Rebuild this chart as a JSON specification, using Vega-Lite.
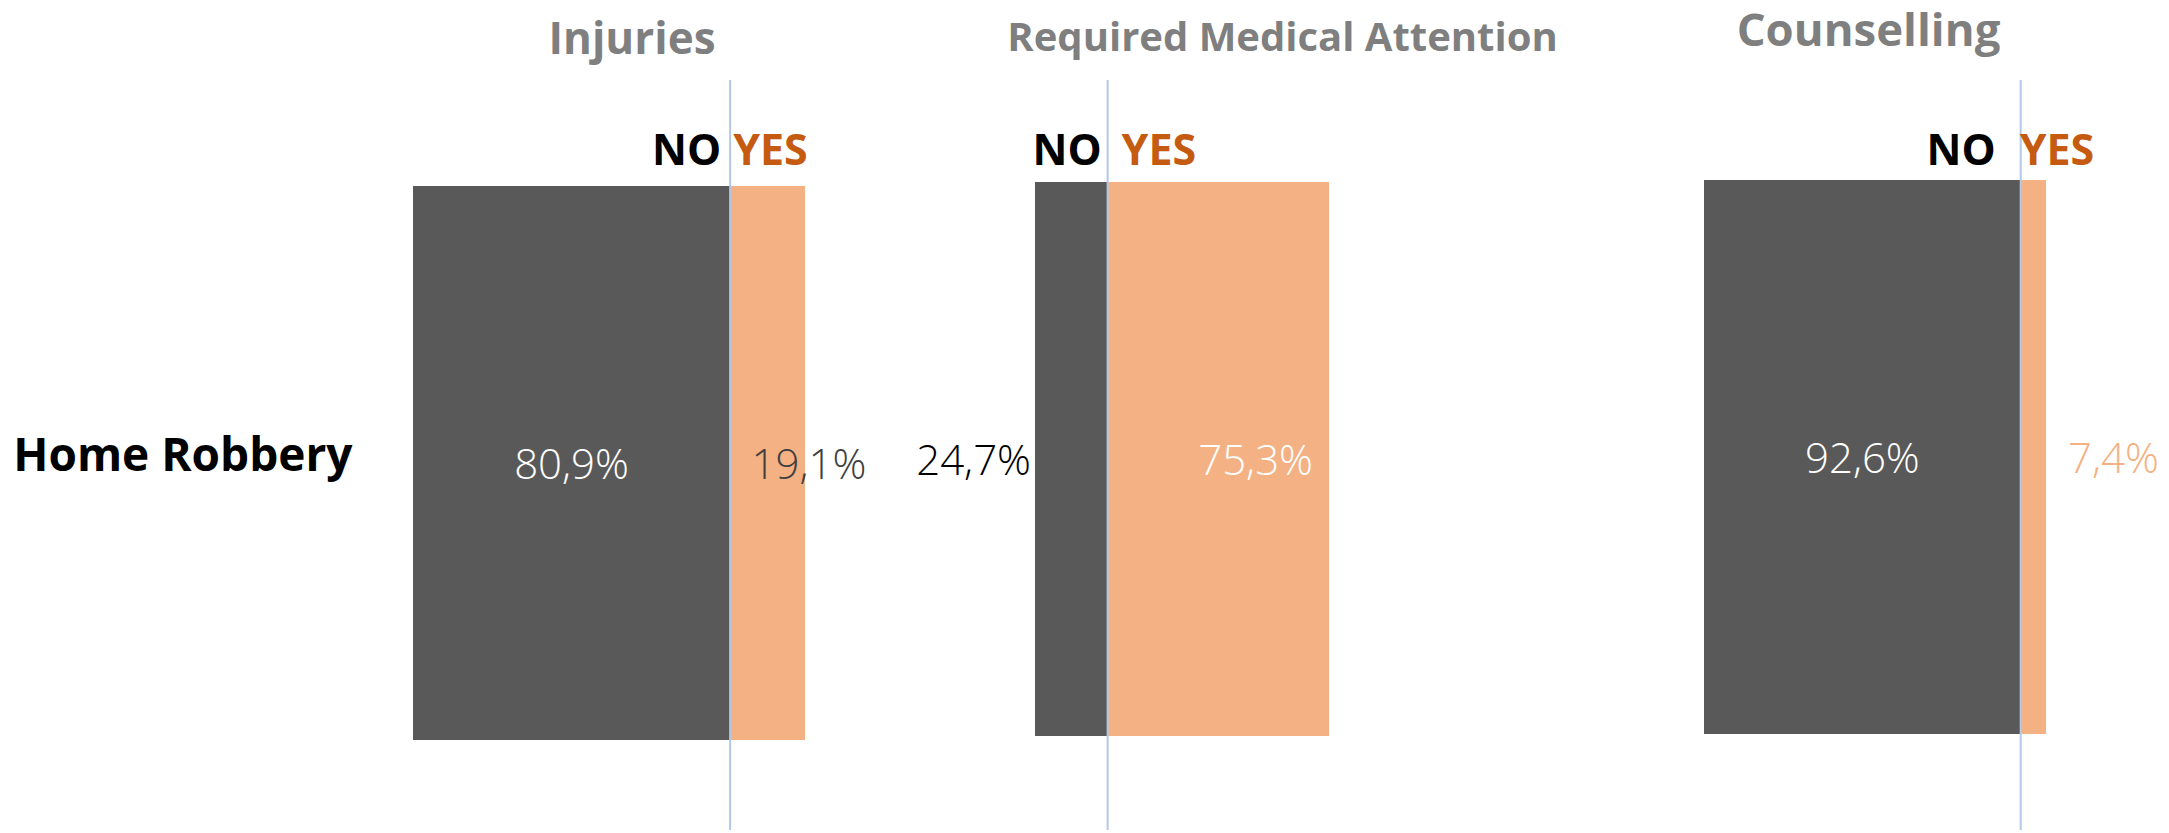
{
  "$schema": "https://vega.github.io/schema/vega-lite/v6.json",
  "autosize": {"type": "pad"},
  "padding": {"left": 12, "top": 9, "right": 0, "bottom": 0},
  "background": "white",
  "data": {"values": [
    {"panel": "Injuries", "crime": "Home Robbery", "response": "NO", "value": 0.809},
    {"panel": "Injuries", "crime": "Home Robbery", "response": "YES", "value": 0.191},
    {"panel": "Required Medical Attention", "crime": "Home Robbery", "response": "NO", "value": 0.247},
    {"panel": "Required Medical Attention", "crime": "Home Robbery", "response": "YES", "value": 0.753},
    {"panel": "Counselling", "crime": "Home Robbery", "response": "NO", "value": 0.926},
    {"panel": "Counselling", "crime": "Home Robbery", "response": "YES", "value": 0.074}
  ]},
  "spacing": 0,
  "bounds": "flush",
  "resolve": {"scale": {"x": "independent", "y": "independent", "color": "independent"}},
  "hconcat": [
    {
      "width": 622, "height": 750,
      "title": {"text": "Injuries", "anchor": "middle", "frame": "group", "dx": -92, "offset": -19, "baseline": "alphabetic", "font": "Open Sans", "fontSize": 44, "fontWeight": "bold", "color": "#7f7f7f"},
      "transform": [{"filter": "datum.panel == 'Injuries'"}],
      "layer": [
        {
          "mark": {"type": "bar"},
          "encoding": {
            "y": {"field": "crime", "type": "nominal", "scale": {"paddingInner": 0, "paddingOuter": 0.1769, "align": 0.5408},
                  "axis": {"title": null, "ticks": false, "domain": false, "labelPadding": 61, "labelLimit": 1000, "labelFont": "Open Sans", "labelFontSize": 46, "labelFontWeight": "bold", "labelColor": "#000000", "labelOffset": -6}},
            "x": {"field": "value", "type": "quantitative", "stack": "zero", "scale": {"domain": [0, 1.5867], "nice": false, "zero": false}, "axis": null},
            "color": {"field": "response", "type": "nominal", "scale": {"domain": ["NO", "YES"], "range": ["#595959", "#f4b183"]}, "legend": null},
            "order": {"field": "response"}
          }
        },
        {
          "transform": [{"filter": "datum.response == 'NO'"}],
          "mark": {"type": "rule", "color": "#b4c7e7", "strokeWidth": 2},
          "encoding": {"x": {"field": "value", "type": "quantitative"}}
        },
        {
          "mark": {"type": "text", "align": "center", "baseline": "middle", "dy": 3, "font": "Open Sans", "fontSize": 42, "fontWeight": 300, "color": "#ffffff"},
          "encoding": {
            "y": {"field": "crime", "type": "nominal"},
            "x": {"field": "value", "type": "quantitative", "stack": "zero", "bandPosition": 0.5},
            "detail": {"field": "response"}, "order": {"field": "response"},
            "text": {"condition": {"test": "datum.response == 'NO'", "field": "value", "type": "quantitative", "format": ".1%"}, "value": ""}
          }
        },
        {
          "mark": {"type": "text", "align": "center", "baseline": "middle", "dx": 4, "dy": 3, "font": "Open Sans", "fontSize": 42, "fontWeight": 300, "color": "#404040"},
          "encoding": {
            "y": {"field": "crime", "type": "nominal"},
            "x": {"field": "value", "type": "quantitative", "stack": "zero", "bandPosition": 1},
            "detail": {"field": "response"}, "order": {"field": "response"},
            "text": {"condition": {"test": "datum.response == 'YES'", "field": "value", "type": "quantitative", "format": ".1%"}, "value": ""}
          }
        },
        {
          "mark": {"type": "text", "align": "right", "baseline": "alphabetic", "dx": -9, "dy": -21, "font": "Open Sans", "fontSize": 43, "fontWeight": "bold", "color": "#000000"},
          "encoding": {
            "y": {"field": "crime", "type": "nominal", "bandPosition": 0},
            "x": {"field": "value", "type": "quantitative", "stack": "zero", "bandPosition": 1},
            "detail": {"field": "response"}, "order": {"field": "response"},
            "text": {"condition": {"test": "datum.response == 'NO'", "field": "response"}, "value": ""}
          }
        },
        {
          "mark": {"type": "text", "align": "left", "baseline": "alphabetic", "dx": 3, "dy": -21, "font": "Open Sans", "fontSize": 43, "fontWeight": "bold", "color": "#c55a11"},
          "encoding": {
            "y": {"field": "crime", "type": "nominal", "bandPosition": 0},
            "x": {"field": "value", "type": "quantitative", "stack": "zero", "bandPosition": 0},
            "detail": {"field": "response"}, "order": {"field": "response"},
            "text": {"condition": {"test": "datum.response == 'YES'", "field": "response"}, "value": ""}
          }
        }
      ]
    },
    {
      "width": 669, "height": 750,
      "title": {"text": "Required Medical Attention", "anchor": "middle", "frame": "group", "dx": -87, "offset": -12, "baseline": "alphabetic", "font": "Open Sans", "fontSize": 40, "fontWeight": "bold", "color": "#7f7f7f"},
      "transform": [{"filter": "datum.panel == 'Required Medical Attention'"}],
      "layer": [
        {
          "mark": {"type": "bar"},
          "encoding": {
            "y": {"field": "crime", "type": "nominal", "scale": {"paddingInner": 0, "paddingOuter": 0.1769, "align": 0.5204}, "axis": null},
            "x": {"field": "value", "type": "quantitative", "stack": "zero", "scale": {"domain": [0, 2.2755], "nice": false, "zero": false}, "axis": null},
            "color": {"field": "response", "type": "nominal", "scale": {"domain": ["NO", "YES"], "range": ["#595959", "#f4b183"]}, "legend": null},
            "order": {"field": "response"}
          }
        },
        {
          "transform": [{"filter": "datum.response == 'NO'"}],
          "mark": {"type": "rule", "color": "#b4c7e7", "strokeWidth": 2},
          "encoding": {"x": {"field": "value", "type": "quantitative"}}
        },
        {
          "mark": {"type": "text", "align": "right", "baseline": "middle", "dx": -4, "dy": 3, "font": "Open Sans", "fontSize": 42, "fontWeight": 300, "color": "#000000"},
          "encoding": {
            "y": {"field": "crime", "type": "nominal"},
            "x": {"field": "value", "type": "quantitative", "stack": "zero", "bandPosition": 0},
            "detail": {"field": "response"}, "order": {"field": "response"},
            "text": {"condition": {"test": "datum.response == 'NO'", "field": "value", "type": "quantitative", "format": ".1%"}, "value": ""}
          }
        },
        {
          "mark": {"type": "text", "align": "right", "baseline": "middle", "dx": -16, "dy": 3, "font": "Open Sans", "fontSize": 42, "fontWeight": 300, "color": "#ffffff"},
          "encoding": {
            "y": {"field": "crime", "type": "nominal"},
            "x": {"field": "value", "type": "quantitative", "stack": "zero", "bandPosition": 1},
            "detail": {"field": "response"}, "order": {"field": "response"},
            "text": {"condition": {"test": "datum.response == 'YES'", "field": "value", "type": "quantitative", "format": ".1%"}, "value": ""}
          }
        },
        {
          "mark": {"type": "text", "align": "right", "baseline": "alphabetic", "dx": -6, "dy": -17, "font": "Open Sans", "fontSize": 43, "fontWeight": "bold", "color": "#000000"},
          "encoding": {
            "y": {"field": "crime", "type": "nominal", "bandPosition": 0},
            "x": {"field": "value", "type": "quantitative", "stack": "zero", "bandPosition": 1},
            "detail": {"field": "response"}, "order": {"field": "response"},
            "text": {"condition": {"test": "datum.response == 'NO'", "field": "response"}, "value": ""}
          }
        },
        {
          "mark": {"type": "text", "align": "left", "baseline": "alphabetic", "dx": 14, "dy": -17, "font": "Open Sans", "fontSize": 43, "fontWeight": "bold", "color": "#c55a11"},
          "encoding": {
            "y": {"field": "crime", "type": "nominal", "bandPosition": 0},
            "x": {"field": "value", "type": "quantitative", "stack": "zero", "bandPosition": 0},
            "detail": {"field": "response"}, "order": {"field": "response"},
            "text": {"condition": {"test": "datum.response == 'YES'", "field": "response"}, "value": ""}
          }
        }
      ]
    },
    {
      "width": 465, "height": 750,
      "title": {"text": "Counselling", "anchor": "middle", "frame": "group", "dx": -68, "offset": -12, "baseline": "alphabetic", "font": "Open Sans", "fontSize": 45.5, "fontWeight": "bold", "color": "#7f7f7f"},
      "transform": [{"filter": "datum.panel == 'Counselling'"}],
      "layer": [
        {
          "mark": {"type": "bar"},
          "encoding": {
            "y": {"field": "crime", "type": "nominal", "scale": {"paddingInner": 0, "paddingOuter": 0.1769, "align": 0.5102}, "axis": null},
            "x": {"field": "value", "type": "quantitative", "stack": "zero", "scale": {"domain": [0, 1.3596], "nice": false, "zero": false}, "axis": null},
            "color": {"field": "response", "type": "nominal", "scale": {"domain": ["NO", "YES"], "range": ["#595959", "#f4b183"]}, "legend": null},
            "order": {"field": "response"}
          }
        },
        {
          "transform": [{"filter": "datum.response == 'NO'"}],
          "mark": {"type": "rule", "color": "#b4c7e7", "strokeWidth": 2},
          "encoding": {"x": {"field": "value", "type": "quantitative"}}
        },
        {
          "mark": {"type": "text", "align": "center", "baseline": "middle", "dy": 3, "font": "Open Sans", "fontSize": 42, "fontWeight": 300, "color": "#ffffff"},
          "encoding": {
            "y": {"field": "crime", "type": "nominal"},
            "x": {"field": "value", "type": "quantitative", "stack": "zero", "bandPosition": 0.5},
            "detail": {"field": "response"}, "order": {"field": "response"},
            "text": {"condition": {"test": "datum.response == 'NO'", "field": "value", "type": "quantitative", "format": ".1%"}, "value": ""}
          }
        },
        {
          "mark": {"type": "text", "align": "left", "baseline": "middle", "dx": 22, "dy": 3, "font": "Open Sans", "fontSize": 42, "fontWeight": 300, "color": "#f4b183"},
          "encoding": {
            "y": {"field": "crime", "type": "nominal"},
            "x": {"field": "value", "type": "quantitative", "stack": "zero", "bandPosition": 1},
            "detail": {"field": "response"}, "order": {"field": "response"},
            "text": {"condition": {"test": "datum.response == 'YES'", "field": "value", "type": "quantitative", "format": ".1%"}, "value": ""}
          }
        },
        {
          "mark": {"type": "text", "align": "right", "baseline": "alphabetic", "dx": -25, "dy": -15, "font": "Open Sans", "fontSize": 43, "fontWeight": "bold", "color": "#000000"},
          "encoding": {
            "y": {"field": "crime", "type": "nominal", "bandPosition": 0},
            "x": {"field": "value", "type": "quantitative", "stack": "zero", "bandPosition": 1},
            "detail": {"field": "response"}, "order": {"field": "response"},
            "text": {"condition": {"test": "datum.response == 'NO'", "field": "response"}, "value": ""}
          }
        },
        {
          "mark": {"type": "text", "align": "left", "baseline": "alphabetic", "dx": -1, "dy": -15, "font": "Open Sans", "fontSize": 43, "fontWeight": "bold", "color": "#c55a11"},
          "encoding": {
            "y": {"field": "crime", "type": "nominal", "bandPosition": 0},
            "x": {"field": "value", "type": "quantitative", "stack": "zero", "bandPosition": 0},
            "detail": {"field": "response"}, "order": {"field": "response"},
            "text": {"condition": {"test": "datum.response == 'YES'", "field": "response"}, "value": ""}
          }
        }
      ]
    }
  ],
  "config": {
    "view": {"stroke": null},
    "font": "Open Sans",
    "locale": {"number": {"decimal": ",", "thousands": ".", "grouping": [3], "currency": ["", " €"]}}
  }
}
